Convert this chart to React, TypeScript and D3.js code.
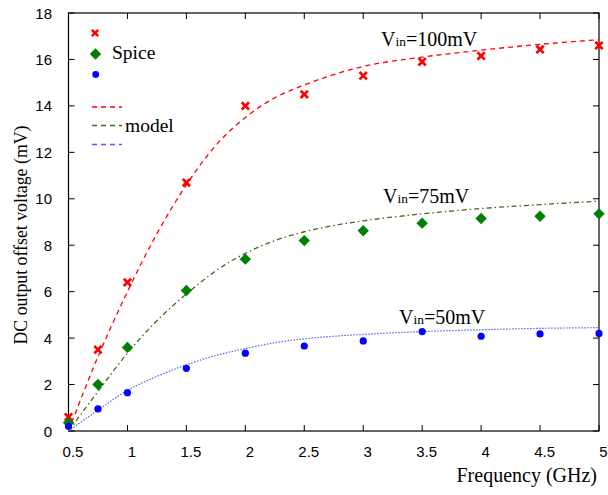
import React from "react";
import * as d3 from "d3";

const freqs = [0.5, 0.75, 1, 1.5, 2, 2.5, 3, 3.5, 4, 4.5, 5];
const spice100 = [0.6, 3.5, 6.4, 10.7, 14.0, 14.5, 15.3, 15.9, 16.15, 16.43, 16.6];
const spice75 = [0.35, 2.0, 3.6, 6.05, 7.4, 8.2, 8.62, 8.95, 9.15, 9.25, 9.35];
const spice50 = [0.2, 0.95, 1.65, 2.7, 3.35, 3.66, 3.88, 4.28, 4.08, 4.18, 4.2];

const modelFreqs = [0.5, 0.75, 1, 1.25, 1.5, 1.75, 2, 2.25, 2.5, 2.75, 3, 3.5, 4, 4.5, 5];
const model100 = [0, 3.2, 6.0, 8.5, 10.6, 12.3, 13.5, 14.35, 14.9, 15.35, 15.7, 16.1, 16.4, 16.65, 16.85];
const model75 = [0, 1.7, 3.35, 4.75, 5.9, 6.9, 7.65, 8.2, 8.58, 8.85, 9.05, 9.35, 9.58, 9.75, 9.9];
const model50 = [0, 0.9, 1.75, 2.35, 2.85, 3.25, 3.55, 3.8, 3.97, 4.08, 4.16, 4.28, 4.36, 4.42, 4.45];

const xTicks = [0.5, 1, 1.5, 2, 2.5, 3, 3.5, 4, 4.5, 5];
const yTicks = [0, 2, 4, 6, 8, 10, 12, 14, 16, 18];

const W = 608, H = 495;
const L = 68.5, R = 599, T = 13, B = 431;

export default function App() {
  const x = d3.scaleLinear().domain([0.5, 5]).range([L, R]);
  const y = d3.scaleLinear().domain([0, 18]).range([B, T]);
  const line = d3
    .line<[number, number]>()
    .x((d) => x(d[0]))
    .y((d) => y(d[1]))
    .curve(d3.curveMonotoneX);
  const mk = (vals: number[]) => line(modelFreqs.map((f, i) => [f, vals[i]] as [number, number])) || "";

  const serif = "'Liberation Serif', 'Times New Roman', serif";
  const sans = "'Liberation Sans', Arial, sans-serif";

  const cross = (cx: number, cy: number, key: string, s = 2.7, w = 2.7) => (
    <g key={key} stroke="#ff0000" strokeWidth={w} strokeLinecap="square">
      <line x1={cx - s} y1={cy - s} x2={cx + s} y2={cy + s} />
      <line x1={cx - s} y1={cy + s} x2={cx + s} y2={cy - s} />
    </g>
  );
  const diamond = (cx: number, cy: number, key: string) => (
    <path
      key={key}
      d={`M${cx},${cy - 5.7}L${cx + 5.7},${cy}L${cx},${cy + 5.7}L${cx - 5.7},${cy}Z`}
      fill="#008000"
    />
  );

  return (
    <svg width={W} height={H} style={{ position: "absolute", left: 0, top: 0 }}>
      <rect width={W} height={H} fill="#fff" />
      <rect x={L} y={T} width={R - L} height={B - T} fill="none" stroke="#000" strokeWidth={1.2} />
      {xTicks.map((t) => (
        <g key={"x" + t}>
          <line x1={x(t)} x2={x(t)} y1={B} y2={B - 6} stroke="#000" />
          <line x1={x(t)} x2={x(t)} y1={T} y2={T + 6} stroke="#000" />
          <text x={x(t) + 4.5} y={B + 26} textAnchor="middle" fontFamily={sans} fontSize={15} fill="#000">
            {t}
          </text>
        </g>
      ))}
      {yTicks.map((t) => (
        <g key={"y" + t}>
          <line x1={L} x2={L + 6} y1={y(t)} y2={y(t)} stroke="#000" />
          <line x1={R} x2={R - 6} y1={y(t)} y2={y(t)} stroke="#000" />
          <text x={52} y={y(t) + 5.5} textAnchor="end" fontFamily={sans} fontSize={15} fill="#000">
            {t}
          </text>
        </g>
      ))}
      <text
        transform={`translate(27,235) rotate(-90)`}
        textAnchor="middle"
        fontFamily={serif}
        fontSize={17.8}
        fill="#000"
      >
        DC output offset voltage (mV)
      </text>
      <text x={597} y={482} textAnchor="end" fontFamily={serif} fontSize={20} fill="#000">
        Frequency (GHz)
      </text>

      <path d={mk(model100)} fill="none" stroke="#ff0000" strokeWidth={1.3} strokeDasharray="5,4" />
      <path d={mk(model75)} fill="none" stroke="#3d6b17" strokeWidth={1.3} strokeDasharray="5,3,1.5,3" />
      <path d={mk(model50)} fill="none" stroke="#5a5aff" strokeWidth={1.2} strokeDasharray="1.5,1.5" />

      {freqs.map((f, i) => cross(x(f), y(spice100[i]), "r" + i))}
      {freqs.map((f, i) => diamond(x(f), y(spice75[i]), "g" + i))}
      {freqs.map((f, i) => (
        <circle key={"b" + i} cx={x(f)} cy={y(spice50[i])} r={3.6} fill="#0000ff" />
      ))}

      <text x={381} y={46} fontFamily={serif} fontSize={20} fill="#000">
        V<tspan fontSize={13.5}>in</tspan>=100mV
      </text>
      <text x={383} y={203} fontFamily={serif} fontSize={20} fill="#000">
        V<tspan fontSize={13.5}>in</tspan>=75mV
      </text>
      <text x={399} y={324} fontFamily={serif} fontSize={20} fill="#000">
        V<tspan fontSize={13.5}>in</tspan>=50mV
      </text>

      {cross(95, 33, "lr", 2.3, 2.5)}
      {diamond(95.5, 54, "lg")}
      <circle cx={95.7} cy={74.5} r={3.4} fill="#0000ff" />
      <text x={112} y={59} fontFamily={serif} fontSize={19.5} fill="#000">
        Spice
      </text>
      <line x1={92} x2={122} y1={107} y2={107} stroke="#ff0000" strokeWidth={1.3} strokeDasharray="5,4" />
      <line x1={92} x2={122} y1={125.5} y2={125.5} stroke="#3d6b17" strokeWidth={1.3} strokeDasharray="5,4" />
      <line x1={92} x2={122} y1={144.5} y2={144.5} stroke="#5a5aff" strokeWidth={1.3} strokeDasharray="5,4" />
      <text x={125} y={132} fontFamily={serif} fontSize={19.5} fill="#000">
        model
      </text>
    </svg>
  );
}
